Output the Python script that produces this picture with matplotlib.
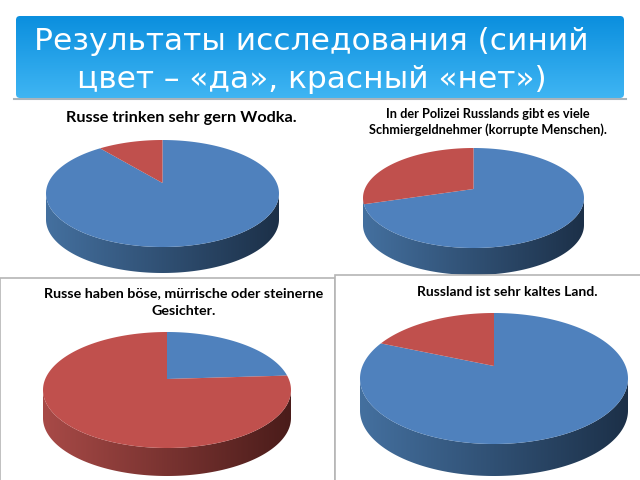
import numpy as np
import matplotlib
matplotlib.use("Agg")
import matplotlib.pyplot as plt
from matplotlib.patches import FancyBboxPatch, Rectangle

header_lines = ["Результаты исследования (синий", "цвет – «да», красный «нет»)"]
titles = [
    "Russe trinken sehr gern Wodka.",
    "In der Polizei Russlands gibt es viele\nSchmiergeldnehmer (korrupte Menschen).",
    "Russe haben böse, mürrische oder steinerne\nGesichter.",
    "Russland ist sehr kaltes Land.",
]
blue_share = [91, 73, 21, 84]
red_share = [9, 27, 79, 16]

BLUE = "#4f81bd"
RED = "#c0504d"
WALLS = {"blue": ("#44709f", "#1c3048"), "red": ("#a84a47", "#4a1c1a")}

# cx, cy, rx, ry, wall depth, apex y
geometry = [
    (162.5, 193.5, 116.5, 53.5, 26, 183),
    (473.5, 198, 110.5, 50, 27, 189),
    (167, 390, 124, 58, 28, 379),
    (494, 378.5, 134, 65.5, 32, 366),
]
# x, y, font size, line spacing
title_pos = [(181, 118, 11.7, 1.3), (488, 122, 9.2, 1.3), (184, 302, 10.3, 1.55), (507, 292, 10.0, 1.3)]


def draw_pie(ax, blue, red, geom, order):
    cx, cy, rx, ry, depth, apex_y = geom
    total = blue + red

    # side wall, coloured after the slice that faces the viewer
    wall = "red" if red > blue else "blue"
    th = np.linspace(0, np.pi, 200)
    xs = cx + rx * np.cos(th)
    ys = cy + ry * np.sin(th)
    wall_x = np.r_[xs, xs[::-1]]
    wall_y = np.r_[ys + depth, ys[::-1]]
    poly = ax.fill(wall_x, wall_y, color="none", zorder=order)[0]
    cmap = matplotlib.colors.LinearSegmentedColormap.from_list("w", WALLS[wall])
    grad = ax.imshow(np.linspace(0, 1, 256)[None, :], cmap=cmap, aspect="auto",
                     extent=(cx - rx, cx + rx, cy + ry + depth, cy - ry), zorder=order)
    grad.set_clip_path(poly)

    # top face: blue runs clockwise from 12 o'clock, then red
    split = 2 * np.pi * blue / total
    for start, end, col in [(0, split, BLUE), (split, 2 * np.pi, RED)]:
        t = np.linspace(start, end, 200)
        px = np.r_[cx, cx + rx * np.sin(t)]
        py = np.r_[apex_y, cy - ry * np.cos(t)]
        ax.fill(px, py, color=col, lw=0, zorder=order + 0.1)


fig = plt.figure(figsize=(6.4, 4.8), dpi=100)
ax = fig.add_axes([0, 0, 1, 1])

# header band
head = FancyBboxPatch((19, 19), 602, 76, boxstyle="round,pad=3,rounding_size=4",
                      fc="none", ec="none", zorder=1)
ax.add_patch(head)
band = ax.imshow(np.linspace(0, 1, 128)[:, None],
                 cmap=matplotlib.colors.LinearSegmentedColormap.from_list("h", ["#0b8fde", "#3fb5f3"]),
                 aspect="auto", extent=(16, 624, 98, 16), zorder=1)
band.set_clip_path(head)
ax.plot([14, 626], [99, 99], color="#a9b4bc", lw=1.5, zorder=2)
ax.text(311, 41, header_lines[0], color="white", fontsize=22.5, ha="center", va="center",
        family="DejaVu Sans", zorder=3)
ax.text(312, 79, header_lines[1], color="white", fontsize=22.5, ha="center", va="center",
        family="DejaVu Sans", zorder=3)

# upper pies sit under the lower panels
draw_pie(ax, blue_share[0], red_share[0], geometry[0], 3)
draw_pie(ax, blue_share[1], red_share[1], geometry[1], 3)

ax.add_patch(Rectangle((0, 278), 335, 210, fc="white", ec="#b5b5b5", lw=1.2, zorder=4))
ax.add_patch(Rectangle((335, 275), 315, 210, fc="white", ec="#b5b5b5", lw=1.2, zorder=4))

draw_pie(ax, blue_share[2], red_share[2], geometry[2], 5)
draw_pie(ax, blue_share[3], red_share[3], geometry[3], 5)

for label, (x, y, size, spacing) in zip(titles, title_pos):
    ax.text(x, y, label, fontsize=size, fontweight="bold", ha="center", va="center",
            family="Lato", color="black", linespacing=spacing, zorder=7)

ax.set_xlim(0, 640)
ax.set_ylim(480, 0)
ax.axis("off")
fig.savefig("out.png", dpi=100)
